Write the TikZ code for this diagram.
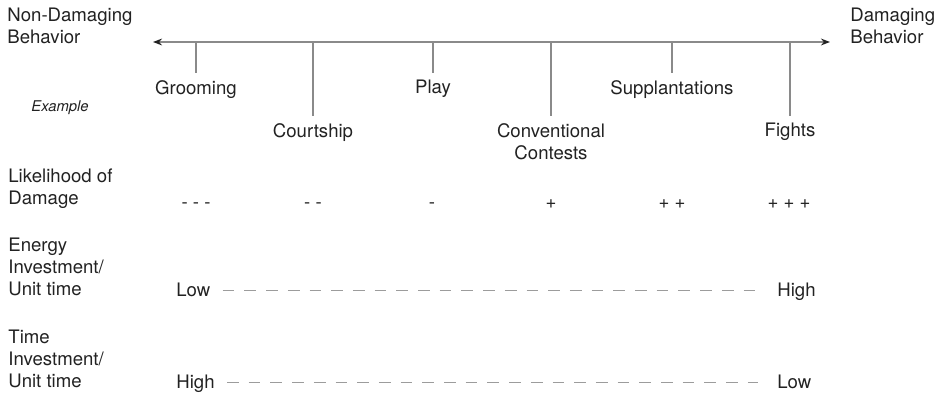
\documentclass[tikz,border=0pt]{standalone}
\usepackage{fontspec}
\setmainfont{TeX Gyre Heros}
\usetikzlibrary{arrows.meta}
\definecolor{ink}{HTML}{222222}
\definecolor{rulegray}{HTML}{8A8A8A}
\definecolor{dashgray}{HTML}{9C9C9C}

\begin{document}
\begin{tikzpicture}[x=0.5pt,y=-0.5pt,
  every node/.style={font=\fontsize{9.3}{11}\selectfont, text=ink},
  head/.style={anchor=north west, inner sep=0, align=left},
  behav/.style={anchor=north, inner xsep=0, inner ysep=3.5pt, align=center},
  tickline/.style={draw=rulegray, line width=0.7pt},
  axisline/.style={draw=rulegray, line width=0.9pt,
    {Stealth[length=4.5pt,width=3.4pt,color=ink]}-{Stealth[length=4.5pt,width=3.4pt,color=ink]}},
  score/.style={anchor=base, inner sep=0},
  level/.style={inner sep=0, text height=7pt, text depth=1.5pt},
  trend/.style={draw=dashgray, line width=0.8pt, dash pattern=on 5.85pt off 5pt,
    shorten <=6pt, shorten >=9.5pt}
]
\useasboundingbox (0,0) rectangle (938,396);

% end labels of the scale
\node[head] (nondam) at (7,8) {Non-Damaging\\Behavior};
\node[head] (dam) at (850,8) {Damaging\\Behavior};

% the behaviour axis
\coordinate (axL) at (153,42);
\coordinate (axR) at (830,42);
\draw[axisline] (axL) -- (axR);

% points on the axis
\coordinate (tGroom) at (196,42);
\coordinate (tCourt) at (313,42);
\coordinate (tPlay)  at (433,42);
\coordinate (tConv)  at (551,42);
\coordinate (tSupp)  at (672,42);
\coordinate (tFight) at (790,42);

% behaviour labels
\node[behav] (groom) at (196,73) {Grooming};
\node[behav] (court) at (313,116) {Courtship};
\node[behav] (play)  at (433,73) {Play};
\node[behav] (conv)  at (551,116) {Conventional\\Contests};
\node[behav] (supp)  at (672,73) {Supplantations};
\node[behav] (fight) at (790,116) {Fights};

\foreach \t/\l in {tGroom/groom,tCourt/court,tPlay/play,tConv/conv,tSupp/supp,tFight/fight}
  \draw[tickline] (\t) -- (\l.north);

\node[font=\fontsize{7.4}{9}\selectfont\itshape, inner sep=0] (example) at (60,108) {Example};

% likelihood of damage
\node[head] (likely) at (8,168) {Likelihood of\\Damage};
\node[score] (s1) at (196,208) {- - -};
\node[score] (s2) at (313,208) {- -};
\node[score] (s3) at (432,208) {-};
\node[score] (s4) at (551,208) {+};
\node[score] (s5) at (672,208) {+ +};
\node[score] (s6) at (789,208) {+ + +};

% energy investment
\node[head] (energy) at (8,238) {Energy\\Investment/\\Unit time};
\node[level, anchor=base west] (eLow) at (176,296) {Low};
\node[level, anchor=base west] (eHigh) at (777,296) {High};
\draw[trend] (eLow.east) -- (eHigh.west);

% time investment
\node[head] (timeinv) at (8,330) {Time\\Investment/\\Unit time};
\node[level, anchor=base west] (tHigh) at (176,388) {High};
\node[level, anchor=base west] (tLow) at (777,388) {Low};
\draw[trend] (tHigh.east) -- (tLow.west);
\end{tikzpicture}
\end{document}
